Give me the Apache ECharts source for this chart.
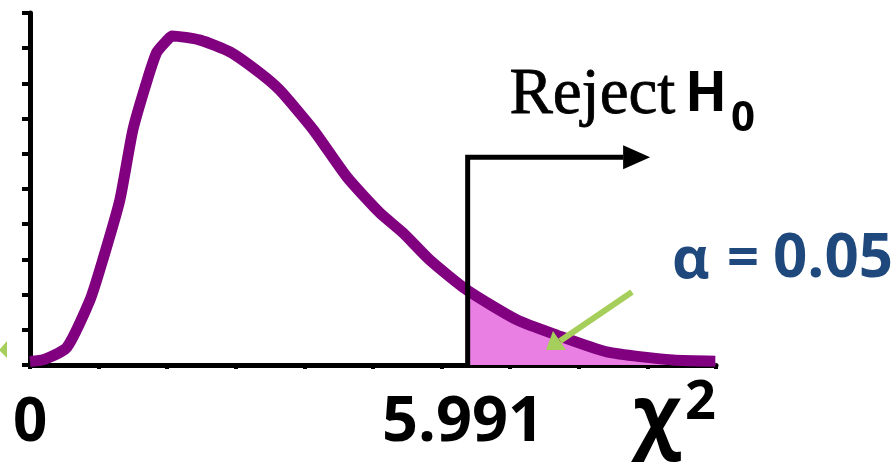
<!DOCTYPE html>
<html>
<head>
<meta charset="utf-8">
<script src="https://cdn.jsdelivr.net/npm/echarts@6/dist/echarts.min.js"></script>
<style>html,body{margin:0;padding:0;background:#fff}#c{width:892px;height:464px}</style>
</head>
<body>
<div id="c"></div>
<script>
// Curve points (x in axis units 0..10, y in axis units 0..10)
const curveX = [0, 0.22, 0.54, 0.875, 1.06, 1.31, 1.50, 1.71, 1.85, 2.0, 2.07, 2.48, 2.92, 3.35, 3.64, 4.13, 4.62, 5.10, 5.44, 5.83, 6.37, 7.10, 7.68, 8.41, 9.37, 9.99];
const curveY = [0.1, 0.17, 0.51, 1.85, 2.98, 4.69, 6.68, 8.10, 8.89, 9.23, 9.35, 9.23, 8.89, 8.30, 7.81, 6.68, 5.34, 4.32, 3.75, 2.98, 2.13, 1.28, 0.85, 0.37, 0.14, 0.11];
const critX = 6.38;          // position of the rejection boundary on the axis
const critLabel = "5.991";
const alphaParts = ["α", "=", "0.05"];
const arrowTopY = 5.9;       // height of the "Reject" bracket
const arrowEndX = 9.04;      // end of the "Reject" arrow
const axisMin = 0, axisMax = 10, axisStep = 1;

const curve = curveX.map((x, i) => [x, curveY[i]]);
function interp(x) {
  for (let i = 0; i < curveX.length - 1; i++) {
    if (x >= curveX[i] && x <= curveX[i + 1]) {
      const t = (x - curveX[i]) / (curveX[i + 1] - curveX[i]);
      return curveY[i] + t * (curveY[i + 1] - curveY[i]);
    }
  }
  return 0;
}
const tail = [[critX, interp(critX)]].concat(curve.filter(p => p[0] > critX));

const chart = echarts.init(document.getElementById('c'), null, {renderer: 'canvas'});
const option = {
  animation: false,
  grid: {left: 30, right: 176, top: 13, bottom: 99, containLabel: false},
  xAxis: {
    type: 'value', min: axisMin, max: axisMax, interval: axisStep,
    axisLine: {show: true, onZero: false, lineStyle: {color: '#000', width: 5}},
    axisTick: {show: true, inside: false, length: 4, lineStyle: {color: '#000', width: 4}},
    axisLabel: {show: false}, splitLine: {show: false}
  },
  yAxis: {
    type: 'value', min: axisMin, max: axisMax, interval: axisStep,
    axisLine: {show: true, onZero: false, lineStyle: {color: '#000', width: 5}},
    axisTick: {show: true, inside: false, length: 8, lineStyle: {color: '#000', width: 4}},
    axisLabel: {show: false}, splitLine: {show: false}
  },
  series: [
    {type: 'line', data: tail, symbol: 'none', z: 2, smooth: 0.2,
     lineStyle: {width: 0}, areaStyle: {color: '#E97FE3', opacity: 1}},
    {type: 'line', data: curve, symbol: 'none', z: 3, smooth: 0.2,
     lineStyle: {color: '#800080', width: 11, join: 'round'}}
  ]
};
chart.setOption(option);

const p0 = chart.convertToPixel({gridIndex: 0}, [critX, 0]);
const p1 = chart.convertToPixel({gridIndex: 0}, [critX, arrowTopY]);
const p2 = chart.convertToPixel({gridIndex: 0}, [arrowEndX, arrowTopY]);
const head = 27;
const sans = '"Open Sans", "DejaVu Sans", sans-serif';
const blue = '#1F497D';
chart.setOption({
  graphic: [
    {type: 'polyline', z: 100, shape: {points: [[p0[0], p0[1]], [p1[0], p1[1]], [p2[0] - head, p2[1]]]},
     style: {stroke: '#000', lineWidth: 5, fill: null}},
    {type: 'polygon', z: 100, shape: {points: [[p2[0] - head, p2[1] - 12], [p2[0], p2[1]], [p2[0] - head, p2[1] + 12]]},
     style: {fill: '#000'}},
    // green pointer
    {type: 'line', z: 100, shape: {x1: 632, y1: 292, x2: 560, y2: 341}, style: {stroke: '#A6CE5A', lineWidth: 6}},
    {type: 'polygon', z: 100, shape: {points: [[546, 350], [553, 331], [566, 350]]}, style: {fill: '#A6CE5A'}},
    {type: 'polygon', z: 100, shape: {points: [[-1, 350], [7, 341], [7, 358]]}, style: {fill: '#A6CE5A'}},
    // texts
    {type: 'text', z: 100, left: 509, top: 63, style: {text: 'Reject', font: '65px "Liberation Serif", serif', fill: '#000', stroke: '#000', lineWidth: 0.8}},
    {type: 'text', z: 100, left: 685, top: 68, style: {text: 'H', font: 'bold 55px ' + sans, fill: '#000'}},
    {type: 'text', z: 100, left: 731, top: 98, style: {text: '0', font: 'bold 42px ' + sans, fill: '#000'}},
    {type: 'text', z: 100, left: 672, top: 232, style: {text: alphaParts[0], font: 'bold 58px ' + sans, fill: blue}},
    {type: 'text', z: 100, left: 727, top: 232, style: {text: alphaParts[1], font: 'bold 56px ' + sans, fill: blue}},
    {type: 'text', z: 100, left: 773, top: 230, style: {text: alphaParts[2], font: 'bold 60px ' + sans, fill: blue}},
    {type: 'text', z: 100, left: 13, top: 394, style: {text: '0', font: 'bold 60px ' + sans, fill: '#000'}},
    {type: 'text', z: 100, left: 382, top: 392, style: {text: critLabel, font: 'bold 63px ' + sans, fill: '#000'}},
    {type: 'text', z: 100, left: 633, top: 380, style: {text: 'χ', font: 'bold 80px ' + sans, fill: '#000'}},
    {type: 'text', z: 100, left: 685, top: 377, style: {text: '2', font: 'bold 54px ' + sans, fill: '#000'}}
  ]
});
</script>
</body>
</html>
